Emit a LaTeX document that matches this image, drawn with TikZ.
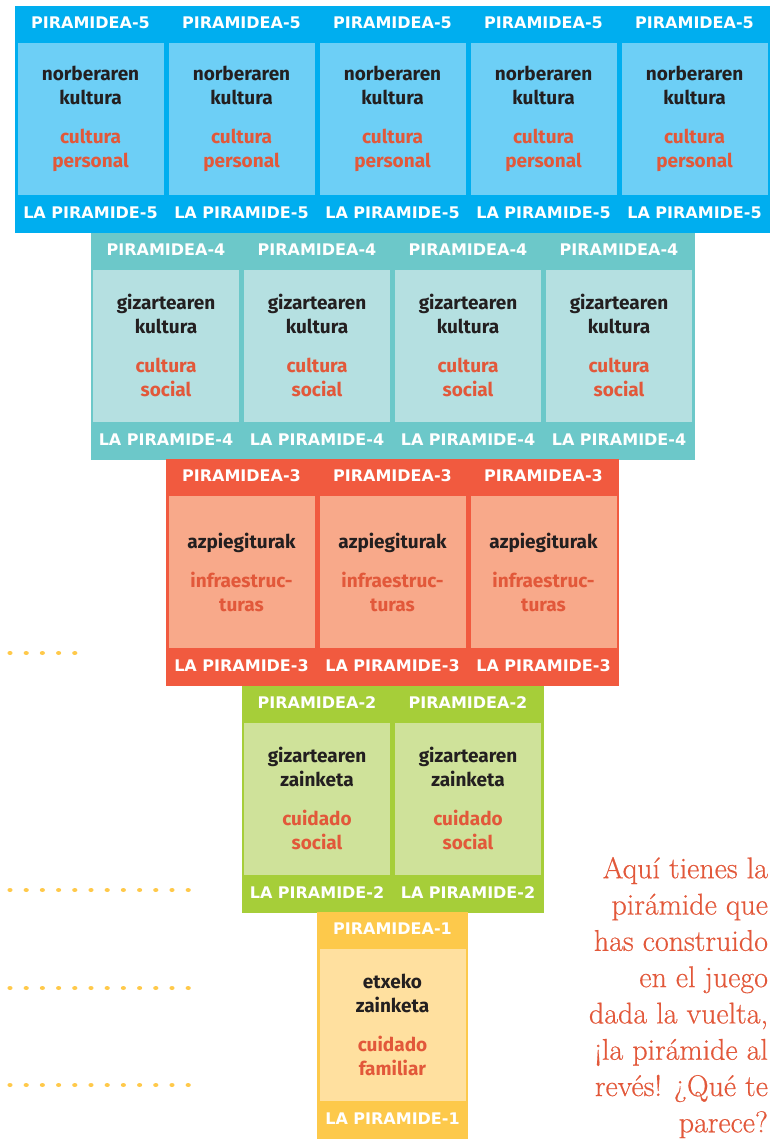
\documentclass[tikz,border=0pt]{standalone}
\usepackage{fontspec}
\newfontfamily\comicfont{Fira Sans}
\newfontfamily\tagfont{DejaVu Sans}
\newfontfamily\notefont[FakeBold=0.5]{Latin Modern Roman}
\definecolor{blue-dark}{HTML}{00AEEF}
\definecolor{blue-light}{HTML}{6DCFF6}
\definecolor{teal-dark}{HTML}{6CC8C9}
\definecolor{teal-light}{HTML}{B5E0E1}
\definecolor{coral-dark}{HTML}{F15A3F}
\definecolor{coral-light}{HTML}{F8A98A}
\definecolor{lime-dark}{HTML}{A6CE39}
\definecolor{lime-light}{HTML}{CFE29A}
\definecolor{gold-dark}{HTML}{FDC94B}
\definecolor{gold-light}{HTML}{FFE09F}
\definecolor{inkblack}{HTML}{231F20}
\definecolor{inkred}{HTML}{E2583A}
\definecolor{dotyellow}{HTML}{FFC94A}
\newcommand{\eus}[1]{\textcolor{inkblack}{#1}}
\newcommand{\esp}[1]{\textcolor{inkred}{#1}}
\begin{document}
\begin{tikzpicture}[x=1pt,y=-1pt,inner sep=0pt,outer sep=0pt,
band/.style={rectangle,anchor=north west,minimum height=227pt},
cell/.style={rectangle,minimum width=146pt,minimum height=152pt,align=center,
  font=\comicfont\bfseries\fontsize{19}{24}\selectfont},
tag/.style={text=white,font=\tagfont\bfseries\fontsize{16}{17}\selectfont}]
\useasboundingbox (0,0) rectangle (783,1142);

% pyramid rows, top = 5
\foreach \r/\tone/\txt in {
  5/blue/{\eus{norberaren}\\\eus{kultura}\\[15pt]\esp{cultura}\\\esp{personal}},
  4/teal/{\eus{gizartearen}\\\eus{kultura}\\[15pt]\esp{cultura}\\\esp{social}},
  3/coral/{\eus{azpiegiturak}\\[15pt]\esp{infraestruc-}\\\esp{turas}},
  2/lime/{\eus{gizartearen}\\\eus{zainketa}\\[15pt]\esp{cuidado}\\\esp{social}},
  1/gold/{\eus{etxeko}\\\eus{zainketa}\\[15pt]\esp{cuidado}\\\esp{familiar}}}
{
  \pgfmathsetmacro{\xl}{15+(5-\r)*75.5}
  \pgfmathsetmacro{\yt}{6+(5-\r)*226.5}
  \node[band,fill=\tone-dark,minimum width=\r*151pt] (row\r) at (\xl,\yt) {};
  \foreach \i in {1,...,\r} {
    \pgfmathsetmacro{\xc}{\xl+75.5+151*(\i-1)}
    \node[cell,fill=\tone-light] (cell\r-\i) at (\xc,\yt+113) {\txt};
    \node[tag] (top\r-\i) at (\xc,\yt+17) {PIRAMIDEA-\r};
    \node[tag] (bot\r-\i) at (\xc,\yt+207) {LA PIRAMIDE-\r};
  }
}

% dotted guide lines
\foreach \y/\n in {653/5,890/12,988/12,1085/12}
  \foreach \k in {1,...,\n}
    \fill[dotyellow] (10+16.2*\k-16.2,\y) ellipse (2.6pt and 2pt);

\node[anchor=north east,align=right,text=inkred,
  font=\notefont\fontsize{30}{36.3}\selectfont] (note) at (768,857)
  {Aquí tienes la\\pirámide que\\has construido\\en el juego\\dada la vuelta,\\¡la pirámide al\\revés! ¿Qué te\\parece?};
\end{tikzpicture}
\end{document}
